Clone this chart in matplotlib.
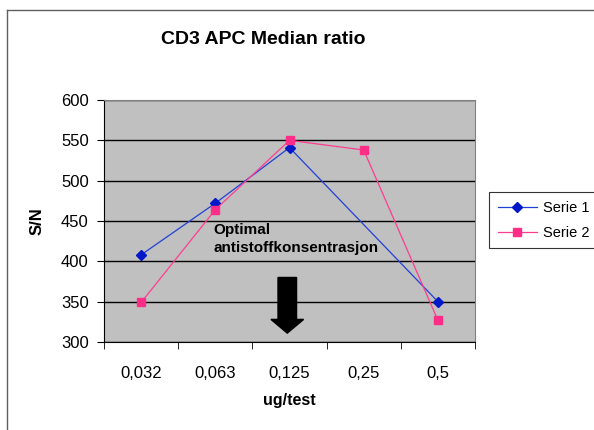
import matplotlib.pyplot as plt
import numpy as np

plt.rcParams['font.family'] = ['Liberation Sans', 'DejaVu Sans']

# Data
categories = ['0,032', '0,063', '0,125', '0,25', '0,5']
serie1 = [408, 472, 541, np.nan, 350]   # no point at 0,25
serie2 = [349, 464, 550, 538, 327]

fig = plt.figure(figsize=(5.94, 4.30), dpi=100)
ax = fig.add_axes([104 / 594, 1 - 342 / 430, 371 / 594, 242 / 430])
ax.set_facecolor('#c0c0c0')

x = np.arange(len(categories))
s1 = np.array(serie1, dtype=float)
ok = ~np.isnan(s1)
ax.plot(x[ok], s1[ok], color='#2040d8', lw=0.9, marker='D', ms=5,
        mfc='#0018c8', mec='#0018c8', label='Serie 1', zorder=3)
ax.plot(x, serie2, color='#ff3d8f', lw=0.9, marker='s', ms=6,
        mfc='#ff2d87', mec='#ff2d87', label='Serie 2', zorder=3)

ax.set_xlim(-0.5, len(categories) - 0.5)
ax.set_ylim(300, 600)
ax.set_yticks(range(300, 601, 50))
ax.yaxis.grid(True, color='black', lw=1)
ax.set_axisbelow(True)
ax.tick_params(axis='y', labelsize=12, length=5, direction='out', color='black', pad=6)

ax.set_xticks(x)
ax.set_xticklabels(categories)
ax.set_xticks(np.arange(-0.5, len(categories), 1), minor=True)
ax.tick_params(axis='x', which='major', length=0, labelsize=12, pad=17)
ax.tick_params(axis='x', which='minor', length=5, direction='out', color='black')

for side in ['top', 'right']:
    ax.spines[side].set_color('#808080')
ax.spines['left'].set_color('black')
ax.spines['bottom'].set_color('black')

ax.set_xlabel('ug/test', fontsize=11.5, fontweight='bold', labelpad=9)
ax.set_ylabel('S/N', fontsize=12, fontweight='bold', labelpad=12)

fig.text(263 / 594, 1 - 40 / 430, 'CD3 APC Median ratio', ha='center', va='center',
         fontsize=14, fontweight='bold')

ax.text(0.98, 447, 'Optimal\nantistoffkonsentrasjon', ha='left', va='top',
        fontsize=11, fontweight='bold', linespacing=1.3)
ax.arrow(1.97, 380, 0, -52, width=0.25, head_width=0.44, head_length=17,
         length_includes_head=False, color='black', zorder=4)

leg = ax.legend(loc='upper left', bbox_to_anchor=(489 / 594, 1 - 192 / 430),
                bbox_transform=fig.transFigure, fontsize=10.5, frameon=True,
                fancybox=False, edgecolor='black', borderpad=0.6, handlelength=2.7,
                handletextpad=0.4, borderaxespad=0, labelspacing=0.75)
leg.get_frame().set_linewidth(0.8)

# chart area border
fig.add_artist(plt.Line2D([7 / 594, 7 / 594], [0, 1 - 10 / 430], color='#606060', lw=1))
fig.add_artist(plt.Line2D([7 / 594, 1], [1 - 10 / 430, 1 - 10 / 430], color='#606060', lw=1))

fig.savefig('out.png', dpi=100)
